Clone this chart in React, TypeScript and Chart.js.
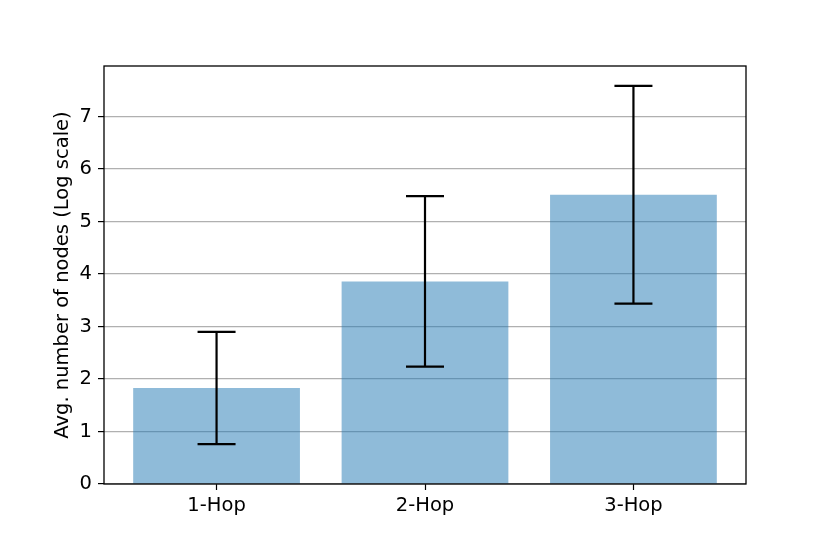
import React, { useEffect, useRef } from "react";
import { Chart, registerables } from "chart.js";

Chart.register(...registerables);

const categories = ["1-Hop", "2-Hop", "3-Hop"];
const means = [1.83, 3.86, 5.51];
const stds = [1.07, 1.625, 2.075];
const yTicks = [0, 1, 2, 3, 4, 5, 6, 7];
const yLabel = "Avg. number of nodes (Log scale)";

const FONT = "'DejaVu Sans', sans-serif";
const FS = 19.5;

const errorBarPlugin = {
  id: "errorBars",
  afterDatasetsDraw(chart: any) {
    const ctx = chart.ctx;
    const xs = chart.scales.x;
    const ys = chart.scales.y;
    ctx.save();
    ctx.strokeStyle = "#000";
    ctx.lineWidth = 2.2;
    means.forEach((m, i) => {
      const x = xs.getPixelForValue(i);
      const yHi = ys.getPixelForValue(m + stds[i]);
      const yLo = ys.getPixelForValue(m - stds[i]);
      const half = 19;
      ctx.beginPath();
      ctx.moveTo(x, yHi);
      ctx.lineTo(x, yLo);
      ctx.moveTo(x - half, yHi);
      ctx.lineTo(x + half, yHi);
      ctx.moveTo(x - half, yLo);
      ctx.lineTo(x + half, yLo);
      ctx.stroke();
    });
    ctx.restore();
  },
  afterDraw(chart: any) {
    const { left, top, right, bottom } = chart.chartArea;
    const ctx = chart.ctx;
    ctx.save();
    ctx.strokeStyle = "#000";
    ctx.lineWidth = 1.3;
    ctx.strokeRect(left, top, right - left, bottom - top);
    ctx.restore();
  },
};

export default function App() {
  const ref = useRef<HTMLCanvasElement>(null);
  useEffect(() => {
    if (!ref.current) return;
    const yMax = Math.max(...means.map((m, i) => m + stds[i])) * 1.05;
    const chart = new Chart(ref.current, {
      type: "bar",
      data: {
        datasets: [
          {
            data: means.map((m, i) => ({ x: i, y: m })),
            backgroundColor: "rgba(31,119,180,0.5)",
            borderWidth: 0,
            barPercentage: 0.8,
            categoryPercentage: 1,
          },
        ],
      },
      options: {
        animation: false,
        responsive: false,
        devicePixelRatio: 1,
        layout: { padding: { top: 66, right: 84, left: 0, bottom: 0 } },
        plugins: { legend: { display: false }, tooltip: { enabled: false } },
        scales: {
          x: {
            type: "linear",
            offset: false,
            min: -0.54,
            max: 2.54,
            afterBuildTicks: (s: any) => {
              s.ticks = categories.map((_, i) => ({ value: i }));
            },
            afterFit: (s: any) => {
              s.height = 70;
            },
            grid: {
              offset: false,
              drawOnChartArea: false,
              drawTicks: true,
              tickLength: 6,
              tickColor: "#000",
              tickWidth: 1.2,
            },
            border: { display: false },
            ticks: {
              color: "#000",
              font: { family: FONT, size: FS },
              padding: 4,
              maxRotation: 0,
              autoSkip: false,
              callback: (v: any) => categories[Math.round(v)] ?? "",
            },
          },
          y: {
            type: "linear",
            min: 0,
            max: yMax,
            afterBuildTicks: (s: any) => {
              s.ticks = yTicks.map((v) => ({ value: v }));
            },
            afterFit: (s: any) => {
              s.width = 104;
            },
            grid: {
              color: "#b0b0b0",
              lineWidth: 1.2,
              drawTicks: true,
              tickLength: 6,
              tickColor: "#000",
              tickWidth: 1.2,
            },
            border: { display: false },
            ticks: {
              color: "#000",
              font: { family: FONT, size: FS },
              padding: 6,
            },
            title: {
              display: true,
              text: yLabel,
              color: "#000",
              font: { family: FONT, size: FS },
              padding: { top: 51, bottom: 0 },
            },
          },
        },
      },
      plugins: [errorBarPlugin],
    });
    return () => chart.destroy();
  }, []);
  return (
    <div style={{ position: "fixed", left: 0, top: 0, width: 830, height: 554, background: "#fff" }}>
      <canvas ref={ref} width={830} height={554} />
    </div>
  );
}
